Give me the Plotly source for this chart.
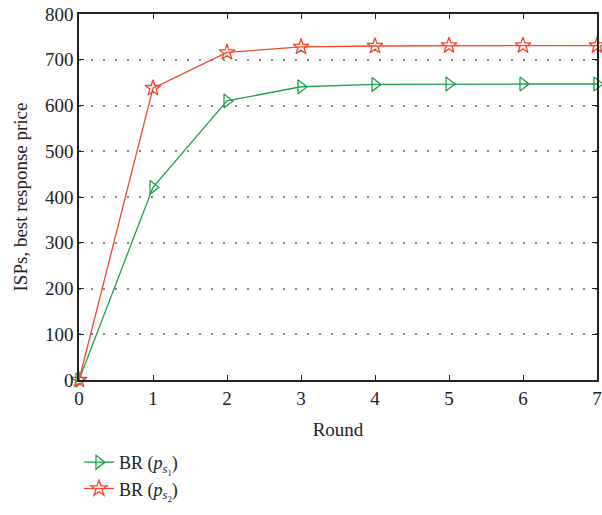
import plotly.graph_objects as go

rounds = [0, 1, 2, 3, 4, 5, 6, 7]
br_s1 = [0, 421, 610, 641, 646, 647, 647, 647]
br_s2 = [0, 638, 716, 728, 730, 731, 731, 731]

green = "#1fa04a"
red = "#f2472a"
font_family = "Liberation Serif, DejaVu Serif, serif"

fig = go.Figure()
fig.add_trace(go.Scatter(
    x=rounds, y=br_s1, mode="lines+markers",
    name="BR (<i>p</i><sub><i>s</i><sub>1</sub></sub>)",
    line=dict(color=green, width=1.3),
    marker=dict(symbol="triangle-right-open", size=12, color=green, line=dict(width=1.3, color=green)),
    cliponaxis=False,
))
fig.add_trace(go.Scatter(
    x=rounds, y=br_s2, mode="lines+markers",
    name="BR (<i>p</i><sub><i>s</i><sub>2</sub></sub>)",
    line=dict(color=red, width=1.3),
    marker=dict(symbol="star-open", size=12, color=red, line=dict(width=1.3, color=red)),
    cliponaxis=False,
))

fig.update_layout(
    width=602, height=515,
    margin=dict(l=79, r=5, t=14, b=135, autoexpand=False),
    paper_bgcolor="white", plot_bgcolor="white",
    font=dict(family=font_family, size=19, color="#222"),
    showlegend=True,
    legend=dict(x=0, xref="paper", y=0.138, yref="container", xanchor="left", yanchor="top",
                font=dict(family=font_family, size=18, color="#222"),
                bgcolor="rgba(0,0,0,0)", tracegroupgap=0),
    xaxis=dict(
        range=[0, 7], tickvals=rounds, ticks="inside", ticklen=5, tickcolor="#222",
        showline=True, linecolor="#222", linewidth=1.5, mirror="ticks",
        showgrid=False, zeroline=False, automargin=False,
        title=dict(text="Round", font=dict(size=19), standoff=15),
        tickfont=dict(size=19),
    ),
    yaxis=dict(
        range=[0, 800], dtick=100, ticks="inside", ticklen=5, tickcolor="#222",
        showline=True, linecolor="#222", linewidth=1.5, mirror="ticks",
        showgrid=True, gridcolor="#888", griddash="2px,10px", gridwidth=1.5,
        zeroline=False, automargin=False,
        title=dict(text="ISPs, best response price", font=dict(size=19), standoff=12),
        tickfont=dict(size=19),
    ),
)

fig.write_html("out.html")
